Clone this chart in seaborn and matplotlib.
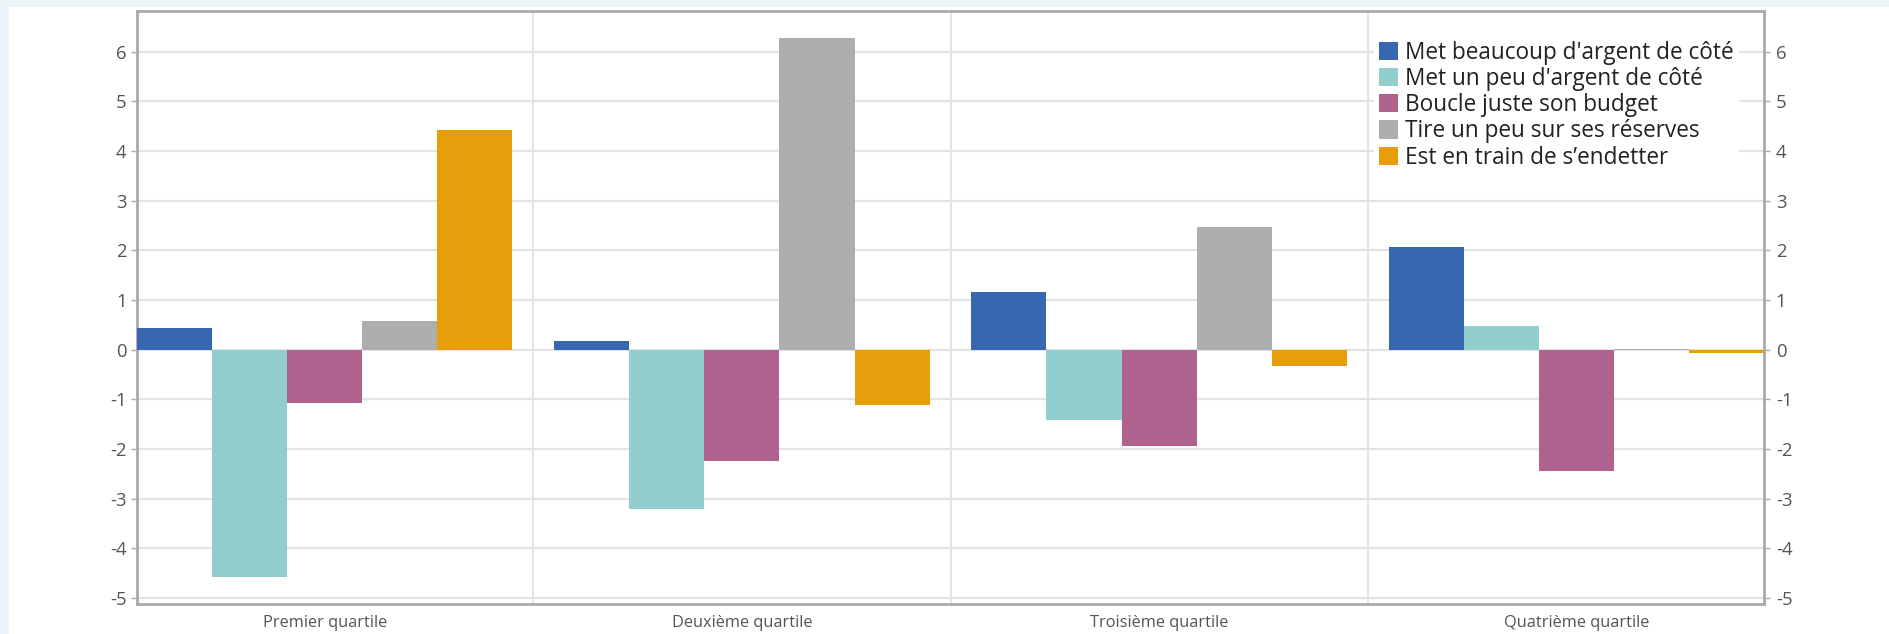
import matplotlib
matplotlib.use("Agg")
import matplotlib.pyplot as plt
from matplotlib.patches import Rectangle, Patch
import seaborn as sns
import pandas as pd
import numpy as np

categories = ["Premier quartile", "Deuxième quartile", "Troisième quartile", "Quatrième quartile"]
series = ["Met beaucoup d'argent de côté", "Met un peu d'argent de côté",
          "Boucle juste son budget", "Tire un peu sur ses réserves",
          "Est en train de s\u2019endetter"]
met_beaucoup = [0.44, 0.17, 1.17, 2.07]
met_un_peu = [-4.58, -3.21, -1.42, 0.47]
boucle = [-1.07, -2.25, -1.93, -2.44]
tire = [0.58, 6.28, 2.47, 0.02]
endetter = [4.42, -1.11, -0.33, -0.07]
colors = ["#3767b1", "#93cece", "#b0628f", "#afaeaf", "#e69f0b"]
yticks = list(range(-5, 7))

values = [met_beaucoup, met_un_peu, boucle, tire, endetter]
rows = []
for s, vals in zip(series, values):
    for c, v in zip(categories, vals):
        rows.append({"cat": c, "serie": s, "val": v})
df = pd.DataFrame(rows)

sns.set_theme(style="white")
plt.rcParams["font.family"] = ["Open Sans", "DejaVu Sans"]
plt.rcParams["axes.unicode_minus"] = False

W, H = 1889, 634
fig = plt.figure(figsize=(W / 100, H / 100), dpi=100, facecolor="white")
# light blue frame strips (left and top)
fig.patches.append(Rectangle((0, 0), 9 / W, 1, transform=fig.transFigure,
                             facecolor="#ebf4f6", edgecolor="none", zorder=-10))
fig.patches.append(Rectangle((0, 1 - 7 / H), 1, 7 / H, transform=fig.transFigure,
                             facecolor="#ebf4f6", edgecolor="none", zorder=-10))
ax = fig.add_axes([137 / W, 1 - 604 / H, (1764 - 137) / W, (604 - 11) / H])
ax.set_facecolor("white")

sns.barplot(data=df, x="cat", y="val", hue="serie", order=categories, hue_order=series,
            palette=colors, width=0.9, gap=0, dodge=True, errorbar=None,
            linewidth=0, saturation=1, ax=ax, zorder=3)

ax.set_xlim(-0.45, 3.45)
ax.set_ylim(-5.12, 6.82)
ax.set_yticks(yticks)
ax.set_yticklabels([str(t) for t in yticks])
ax.set_xlabel("")
ax.set_ylabel("")

ax.grid(axis="y", color="#e3e3e3", linewidth=1.5, zorder=0)
ax.set_axisbelow(True)
ax.set_xticks([0.5, 1.5, 2.5], minor=True)
ax.grid(axis="x", which="minor", color="#dedede", linewidth=1.2, zorder=0)
ax.tick_params(axis="x", which="minor", length=22, color="#dedede", width=1.2, direction="out")
ax.tick_params(axis="x", which="major", length=0, pad=8, labelsize=11.8, labelcolor="#555555")
ax.tick_params(axis="y", which="major", length=4.5, width=1, color="#aaaaaa", direction="out",
               pad=3, labelsize=13.3, labelcolor="#555555", left=True)

for side, sp in ax.spines.items():
    sp.set_visible(True)
    sp.set_color("#aaaaaa")
    sp.set_linewidth(2)

ax2 = ax.twinx()
ax2.set_ylim(ax.get_ylim())
ax2.set_yticks(yticks)
ax2.set_yticklabels([str(t) for t in yticks])
ax2.tick_params(axis="y", length=4.5, width=1, color="#aaaaaa", direction="out", pad=4,
                labelsize=13.3, labelcolor="#555555", right=True)
for sp in ax2.spines.values():
    sp.set_visible(False)

if ax.get_legend() is not None:
    ax.get_legend().remove()
handles = [Patch(facecolor=c, edgecolor="none") for c in colors]
leg = ax2.legend(handles, series, loc="upper left", bbox_to_anchor=(1374 / W, 1 - 36 / H),
                 bbox_transform=fig.transFigure, frameon=True, fancybox=False,
                 framealpha=1, edgecolor="white", facecolor="white",
                 fontsize=16.3, handlelength=0.85, handleheight=0.85, handletextpad=0.3,
                 labelspacing=0.1, borderpad=0.2, borderaxespad=0)
for t in leg.get_texts():
    t.set_color("#222222")

fig.savefig("out.png", dpi=100, facecolor=fig.get_facecolor())
